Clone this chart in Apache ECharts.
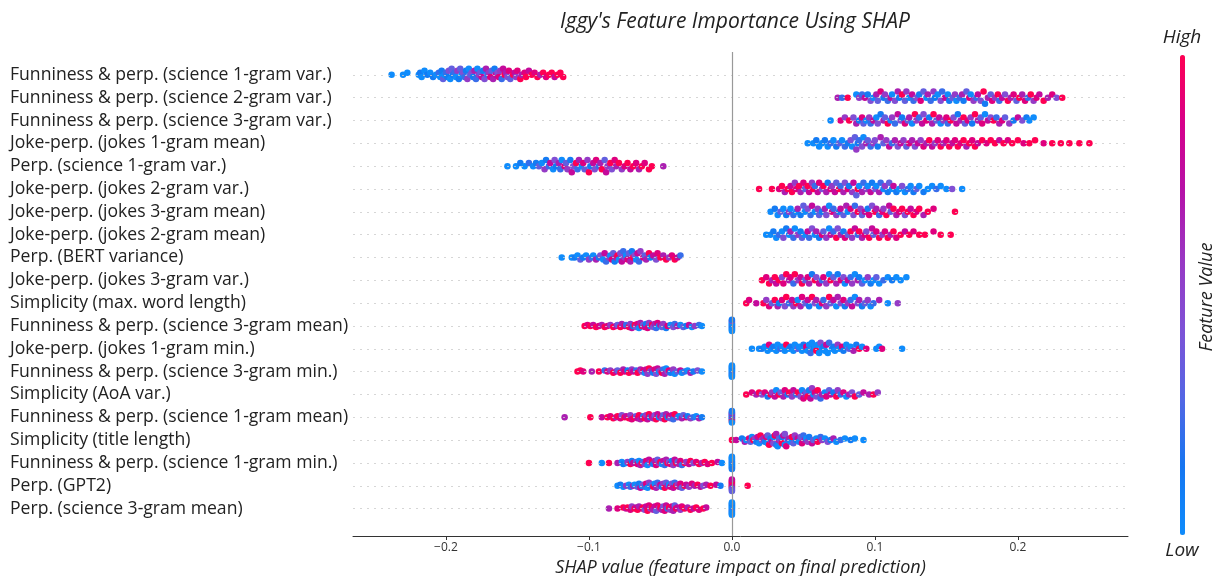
<!DOCTYPE html>
<html>
<head>
<meta charset="utf-8">
<script src="https://cdn.jsdelivr.net/npm/echarts@6/dist/echarts.min.js"></script>
<style>html,body{margin:0;padding:0;background:#fff}#c{width:1220px;height:576px}</style>
</head>
<body>
<div id="c"></div>
<script>
// ---- data ----
const features = [
 "Funniness & perp. (science 1-gram var.)",
 "Funniness & perp. (science 2-gram var.)",
 "Funniness & perp. (science 3-gram var.)",
 "Joke-perp. (jokes 1-gram mean)",
 "Perp. (science 1-gram var.)",
 "Joke-perp. (jokes 2-gram var.)",
 "Joke-perp. (jokes 3-gram mean)",
 "Joke-perp. (jokes 2-gram mean)",
 "Perp. (BERT variance)",
 "Joke-perp. (jokes 3-gram var.)",
 "Simplicity (max. word length)",
 "Funniness & perp. (science 3-gram mean)",
 "Joke-perp. (jokes 1-gram min.)",
 "Funniness & perp. (science 3-gram min.)",
 "Simplicity (AoA var.)",
 "Funniness & perp. (science 1-gram mean)",
 "Simplicity (title length)",
 "Funniness & perp. (science 1-gram min.)",
 "Perp. (GPT2)",
 "Perp. (science 3-gram mean)"
];
const xTickValues = [-0.2, -0.1, 0, 0.1, 0.2];
const xTickLabels = ["\u22120.2", "\u22120.1", "0.0", "0.1", "0.2"];
// per feature: flat pairs -> SHAP value (x1000), feature level (0 = low ... 9 = high)
const samples = [
[-238,0,-230,0,-227,0,-219,0,-218,1,-217,0,-215,0,-213,1,-211,0,-209,1,-207,0,-205,2,-204,0,-203,1,-202,3,-201,0,-200,2,-199,1,-198,4,-197,0,-196,3,-195,1,-194,2,-193,0,-192,5,-191,1,-190,3,-189,0,-188,4,-187,2,-186,1,-185,5,-184,0,-183,3,-182,4,-181,1,-180,6,-179,2,-178,0,-177,5,-176,3,-175,7,-174,1,-173,4,-172,6,-171,2,-170,5,-169,8,-168,3,-167,6,-166,1,-165,7,-164,4,-163,8,-162,5,-161,2,-160,7,-159,9,-158,6,-157,4,-156,8,-155,3,-153,9,-152,7,-151,5,-150,8,-148,9,-147,6,-145,8,-144,9,-142,7,-140,9,-138,8,-136,9,-134,6,-132,9,-130,8,-128,9,-126,9,-124,7,-122,9,-120,9,-118,9],
[74,6,77,2,81,9,87,0,89,5,91,2,93,7,95,1,97,4,99,0,101,6,102,3,104,8,106,1,107,5,109,2,111,7,112,0,114,4,116,6,117,1,119,9,121,3,122,5,124,0,126,7,127,2,129,4,131,1,132,8,134,3,136,0,137,6,139,2,141,5,142,1,144,0,146,4,147,2,149,7,151,0,152,1,154,3,156,5,157,0,159,2,161,6,162,1,164,3,166,8,167,0,169,5,171,2,172,7,174,4,176,9,177,1,179,6,181,3,182,8,184,5,186,9,187,2,189,7,191,4,193,9,195,6,197,8,199,3,201,9,203,6,205,8,207,2,209,9,211,5,213,8,215,7,218,9,221,6,224,8,227,4,231,9],
[69,0,76,8,79,5,82,9,85,4,87,6,89,1,91,8,92,3,94,0,96,5,97,2,99,7,101,0,102,4,104,1,106,6,107,3,109,9,111,0,112,5,114,2,116,7,118,4,119,1,121,8,123,3,124,6,126,0,128,9,129,5,131,2,133,7,134,4,136,8,138,1,140,6,141,9,143,3,145,7,146,0,148,5,150,8,151,2,153,9,155,4,157,7,158,1,160,6,162,9,163,3,165,8,167,5,168,1,170,9,172,6,174,3,175,8,177,0,179,7,181,4,183,9,185,2,187,6,189,8,191,3,194,5,197,1,200,7,203,4,206,1,208,0,211,0],
[53,0,57,0,59,1,61,0,63,0,65,1,67,0,69,2,71,0,73,1,75,3,77,0,79,2,81,1,83,4,84,0,86,3,87,5,88,1,89,2,91,4,92,0,94,6,95,3,97,2,99,5,100,4,102,1,104,6,106,3,108,5,110,7,112,2,114,6,116,4,118,7,120,5,122,3,124,8,126,6,128,4,130,7,132,5,134,8,136,6,138,9,140,7,142,5,144,8,146,9,148,6,150,8,152,9,154,7,156,8,158,9,160,8,162,9,164,6,166,9,168,8,170,9,172,7,175,9,178,8,181,9,184,9,187,7,190,9,193,8,196,9,200,9,204,8,208,9,212,9,218,8,224,9,230,9,236,9,243,9,250,9],
[-157,0,-151,0,-148,1,-145,0,-142,2,-139,0,-137,1,-135,3,-133,0,-131,5,-130,1,-128,2,-127,7,-125,0,-124,4,-123,1,-121,6,-120,2,-119,0,-117,8,-116,3,-115,5,-113,1,-112,7,-111,4,-109,9,-108,2,-107,6,-105,0,-104,8,-103,3,-101,5,-100,9,-99,1,-97,7,-96,4,-95,8,-93,2,-92,6,-91,9,-89,3,-88,7,-87,5,-85,9,-84,4,-82,8,-81,6,-79,9,-77,5,-75,8,-73,9,-71,7,-69,9,-67,8,-65,6,-63,9,-61,8,-58,9,-56,9,-48,6],
[19,9,28,9,33,8,35,9,37,6,39,9,41,7,42,9,44,5,45,8,47,9,48,6,50,8,51,3,53,9,54,7,56,5,57,9,58,2,60,7,61,8,63,4,64,9,66,6,67,1,69,8,70,5,72,7,73,3,75,9,76,2,78,6,79,4,81,8,82,1,84,5,85,7,87,3,88,9,89,0,91,6,92,2,94,5,95,0,97,7,98,1,100,4,101,0,103,6,104,2,106,0,107,5,109,1,110,3,112,0,113,7,115,1,117,0,119,4,121,0,123,2,125,0,127,1,129,3,131,0,134,1,137,0,140,0,143,2,146,0,150,0,154,4,161,0],
[27,0,30,1,32,0,34,3,36,0,38,1,40,5,41,0,43,2,45,0,46,6,48,1,50,3,51,0,53,4,55,2,56,7,58,0,60,5,61,3,63,1,65,6,66,4,68,0,70,8,71,2,73,5,75,1,76,7,78,3,80,6,81,0,83,8,85,4,86,2,88,9,90,5,91,3,93,7,95,1,96,8,98,4,100,9,101,6,103,2,105,8,106,5,108,9,110,7,111,3,113,9,115,6,117,8,119,9,121,4,123,9,125,7,127,9,129,8,131,9,134,6,137,9,141,8,156,9],
[24,0,27,0,29,1,31,0,33,2,35,0,36,4,38,1,40,0,41,6,43,2,44,0,46,5,48,1,49,3,51,0,53,7,54,2,56,4,58,0,59,6,61,1,63,8,64,3,66,5,68,0,69,7,71,2,73,9,74,4,76,6,78,1,79,8,81,3,83,9,84,5,86,7,88,2,89,9,91,6,93,8,94,4,96,9,98,7,99,3,101,8,103,9,105,5,107,8,109,9,111,6,113,9,115,8,118,9,121,7,124,9,127,8,131,9,135,9,141,8,146,9,153,9],
[-119,0,-112,0,-110,1,-108,0,-106,3,-104,1,-102,0,-100,5,-98,2,-97,0,-95,6,-93,1,-92,4,-90,0,-89,7,-88,2,-86,5,-85,0,-84,8,-83,3,-82,1,-81,6,-80,9,-79,0,-78,4,-77,7,-76,2,-75,5,-74,0,-73,8,-72,3,-71,6,-70,1,-69,9,-68,4,-67,0,-66,7,-65,2,-64,5,-62,8,-61,3,-60,6,-58,9,-57,1,-55,7,-53,4,-52,8,-50,9,-48,6,-46,9,-44,5,-42,8,-40,9,-38,7,-36,2],
[21,9,24,8,26,9,28,6,30,9,31,7,33,9,35,4,36,8,38,9,40,6,41,8,43,2,44,9,46,5,48,7,49,9,51,3,53,8,54,6,56,1,58,9,59,4,61,7,63,2,64,8,66,5,68,0,69,9,71,3,73,6,74,1,76,8,78,4,79,0,81,7,83,2,84,5,86,0,88,6,89,1,91,3,93,0,95,5,97,1,99,0,101,3,103,0,106,2,109,0,112,1,115,0,118,0,122,0],
[10,9,12,8,17,7,22,9,24,5,26,8,28,3,30,9,32,6,33,1,35,8,37,4,38,9,40,2,42,7,43,5,45,9,46,0,48,6,49,8,51,3,53,7,54,1,56,9,58,4,59,6,61,0,63,8,64,2,66,5,68,9,69,3,71,7,73,0,74,6,76,4,78,8,79,1,81,5,83,2,84,7,86,0,88,4,89,6,91,1,93,3,95,5,97,0,99,2,103,6,109,0,116,5],
[-103,9,-101,8,-99,9,-97,7,-95,9,-93,8,-91,6,-89,9,-87,8,-85,5,-83,9,-81,7,-80,3,-78,9,-77,6,-75,8,-74,2,-72,9,-71,5,-70,7,-69,1,-68,9,-67,4,-66,8,-65,0,-64,6,-63,9,-62,3,-61,7,-60,1,-59,8,-58,5,-57,0,-56,9,-55,4,-54,6,-53,2,-52,8,-51,0,-50,7,-49,3,-48,5,-46,1,-45,8,-43,0,-41,4,-40,2,-38,6,-36,0,-34,3,-32,1,-30,7,-28,0,-26,5,-23,2,-21,0,
 0,0,0,1,0,0,0,0,0,2,0,0,0,1,0,0,0,0,0,4,0,0,0,1],
[14,0,19,0,21,1,23,0,25,0,26,8,28,0,29,1,31,0,32,0,34,2,35,0,37,0,38,9,40,0,41,1,43,0,44,0,46,3,47,0,49,0,50,1,51,0,52,8,53,0,54,0,55,2,56,0,57,1,58,0,59,9,60,0,61,0,62,4,63,0,64,1,65,0,66,7,67,0,68,2,70,0,71,1,72,0,74,5,75,0,77,8,78,1,80,0,82,3,83,0,85,6,87,1,89,9,91,0,94,8,101,0,103,0,105,8,119,0],
[-108,9,-106,9,-104,8,-98,6,-93,9,-89,2,-87,8,-85,5,-83,9,-81,7,-80,3,-78,9,-76,6,-75,8,-73,1,-72,9,-70,5,-69,7,-67,2,-66,9,-64,6,-63,4,-62,8,-61,0,-60,7,-59,5,-58,9,-57,3,-56,6,-55,1,-54,8,-53,4,-52,7,-51,0,-50,5,-49,9,-48,2,-47,6,-46,0,-45,4,-44,8,-43,1,-41,5,-40,0,-38,3,-36,7,-35,0,-33,2,-31,0,-29,6,-27,1,-24,4,-21,0,
 0,0,0,0,0,1,0,0,0,0,0,0,0,2,0,0,0,0,0,1,0,0,0,0],
[10,9,14,8,17,6,19,9,21,4,23,8,25,1,27,9,28,5,30,7,31,0,33,9,34,3,36,6,37,8,39,1,40,9,42,5,43,7,45,2,46,9,48,4,49,0,50,8,51,6,52,3,53,9,54,1,55,7,56,5,57,0,58,8,59,4,60,9,62,2,63,6,65,0,66,8,68,3,69,7,71,1,73,9,74,5,76,2,78,8,80,0,82,6,84,4,86,9,89,3,92,7,96,6,99,9,102,5],
[-117,6,-99,9,-91,7,-87,9,-85,8,-83,9,-81,6,-80,9,-78,8,-77,4,-75,9,-74,7,-72,9,-71,5,-70,8,-68,9,-67,3,-66,7,-65,9,-64,6,-63,8,-62,2,-61,9,-60,5,-59,7,-58,9,-57,1,-56,8,-55,6,-54,4,-53,9,-52,7,-51,0,-50,8,-49,5,-48,3,-47,9,-46,6,-45,1,-44,8,-43,4,-42,7,-41,2,-40,9,-38,5,-37,0,-35,6,-34,3,-32,8,-31,1,-29,5,-27,2,-25,0,-23,6,-21,1,
 0,0,0,1,0,0,0,5,0,8,0,1,0,0,0,6,0,9,0,2,0,0,0,1],
[0,9,3,7,7,1,9,6,10,0,12,8,13,3,14,0,15,9,16,5,17,1,18,7,19,0,20,9,21,4,22,6,23,1,24,8,25,0,25,3,26,9,27,5,27,1,28,7,29,0,29,4,30,9,31,2,31,6,32,0,33,8,33,3,34,5,35,1,35,9,36,7,37,0,37,4,38,8,39,2,40,6,41,0,42,9,43,3,44,5,45,1,46,7,47,0,48,4,49,8,50,2,51,6,52,0,53,5,54,1,56,7,57,3,59,0,60,9,62,2,63,5,65,0,67,4,69,1,71,6,73,0,76,2,79,0,83,1,86,0,92,0],
[-100,9,-91,0,-86,9,-80,6,-77,0,-76,1,-74,0,-73,5,-71,9,-70,1,-69,7,-67,3,-66,8,-65,0,-64,6,-63,9,-62,2,-61,5,-60,8,-59,0,-58,7,-57,4,-56,9,-55,1,-54,6,-53,8,-52,3,-51,5,-50,9,-49,0,-48,7,-47,2,-46,6,-45,9,-44,4,-43,8,-42,1,-41,5,-40,7,-39,9,-38,3,-37,6,-36,8,-35,2,-33,9,-32,5,-30,7,-29,9,-27,4,-25,8,-23,9,-21,6,-19,9,-17,8,-14,9,-10,7,-7,0,
 0,0,0,0,0,1,0,0,0,0,0,2,0,0,0,0,0,1,0,0,0,0,0,0,0,1],
[-80,0,-78,1,-76,0,-74,5,-72,0,-71,2,-69,6,-68,0,-66,3,-65,1,-64,7,-63,0,-62,4,-61,2,-60,8,-59,0,-58,5,-57,1,-56,3,-55,9,-54,0,-53,6,-52,2,-51,4,-50,7,-49,1,-48,5,-47,9,-46,3,-45,6,-44,0,-43,8,-42,4,-41,7,-40,2,-39,9,-38,5,-37,6,-36,8,-35,3,-33,9,-32,7,-30,5,-28,8,-26,6,-24,9,-22,7,-20,4,-18,6,-15,9,-11,7,-8,1,11,9,
 0,8,0,9,0,6,0,4,0,9,0,7,0,2,0,8,0,5,0,9,0,3,0,7],
[-86,6,-80,8,-76,9,-74,7,-73,9,-71,8,-70,5,-68,9,-67,7,-66,9,-65,6,-63,8,-62,9,-61,4,-60,7,-59,9,-58,8,-57,5,-56,9,-55,6,-54,7,-53,3,-52,8,-51,5,-50,9,-49,6,-48,4,-47,8,-46,7,-45,2,-44,9,-43,5,-42,8,-41,6,-40,3,-39,9,-38,7,-36,5,-35,8,-33,9,-31,6,-29,9,-27,7,-25,9,-23,8,-20,9,-18,7,
 0,0,0,0,0,1,0,0,0,0,0,0,0,2,0,0,0,0,0,1,0,0,0,0,0,0]
];

// ---- layout (beeswarm like SHAP: bin along x, stack alternately, normalise per row) ----
const FONT = "'Open Sans', 'Noto Sans', sans-serif";
const nRows = features.length;
const binW = 0.006;
const points = [];
samples.forEach((flat, i) => {
  const pts = [];
  for (let k = 0; k + 1 < flat.length; k += 2) pts.push({x: flat[k] / 1000, c: flat[k + 1] / 9});
  const order = pts.map((p, j) => j).sort((a, b) => pts[a].x - pts[b].x);
  const cnt = {};
  const off = new Array(pts.length).fill(0);
  order.forEach(j => {
    const b = Math.round(pts[j].x / binW);
    const k = cnt[b] || 0; cnt[b] = k + 1;
    off[j] = Math.ceil(k / 2) * (k % 2 === 1 ? 1 : -1);
  });
  const m = Math.max(1, ...off.map(Math.abs));
  const s = 0.27 / m;
  const yBase = nRows - 1 - i;
  pts.forEach((p, j) => points.push([p.x, yBase + off[j] * s, p.c]));
});

const rowLines = features.map((f, i) => ({yAxis: nRows - 1 - i}));

const chart = echarts.init(document.getElementById('c'), null, {renderer: 'canvas'});
chart.setOption({
  animation: false,
  backgroundColor: '#fff',
  title: {
    text: "Iggy's Feature Importance Using SHAP",
    left: 730, top: 7, textAlign: 'center',
    textStyle: {fontFamily: FONT, fontStyle: 'italic', fontWeight: 'normal', fontSize: 21, color: '#222'}
  },
  grid: {left: 353, right: 92, top: 52, bottom: 40, containLabel: false, outerBoundsMode: 'none'},
  xAxis: {
    type: 'value', min: -0.265, max: 0.277,
    name: 'SHAP value (feature impact on final prediction)',
    nameLocation: 'middle', nameGap: 21,
    nameTextStyle: {fontFamily: FONT, fontStyle: 'italic', fontSize: 18, color: '#222'},
    axisLine: {show: true, onZero: false, lineStyle: {color: '#333', width: 1}},
    axisTick: {show: true, length: 4, customValues: xTickValues, lineStyle: {color: '#333'}},
    axisLabel: {
      customValues: xTickValues, fontFamily: FONT, fontSize: 12, color: '#333', margin: 6,
      formatter: v => { const i = xTickValues.findIndex(t => Math.abs(t - v) < 1e-9); return i >= 0 ? xTickLabels[i] : ''; }
    },
    splitLine: {show: false}
  },
  yAxis: {
    type: 'value', min: -1.2, max: 20,
    axisLine: {show: false}, axisTick: {show: false}, splitLine: {show: false},
    axisLabel: {
      customValues: features.map((f, i) => i),
      align: 'left', margin: 343, fontFamily: FONT, fontSize: 17.6, color: '#222',
      formatter: v => features[nRows - 1 - Math.round(v)] || ''
    }
  },
  visualMap: {
    type: 'continuous', min: 0, max: 1, dimension: 2, seriesIndex: 1,
    calculable: false, orient: 'vertical', left: 1180, top: 55, padding: 0,
    itemWidth: 5, itemHeight: 480, showLabel: false,
    inRange: {color: ['#0f8cfc', '#1676f1', '#5466e4', '#7e52d6', '#9838c4', '#b512a8', '#d6008a', '#ff0052']}
  },
  graphic: [
    {type: 'text', x: 1182, y: 38, style: {text: 'High', fontFamily: FONT, fontStyle: 'italic', fontSize: 19, fill: '#222', align: 'center', verticalAlign: 'middle'}},
    {type: 'text', x: 1182, y: 551, style: {text: 'Low', fontFamily: FONT, fontStyle: 'italic', fontSize: 19, fill: '#222', align: 'center', verticalAlign: 'middle'}},
    {type: 'text', x: 1207, y: 297, rotation: Math.PI / 2,
     style: {text: 'Feature Value', fontFamily: FONT, fontStyle: 'italic', fontSize: 18, fill: '#222', align: 'center', verticalAlign: 'middle'}}
  ],
  series: [
    {
      type: 'scatter', data: [], silent: true, z: 1,
      markLine: {
        silent: true, symbol: 'none', animation: false, label: {show: false},
        lineStyle: {color: '#cccccc', type: [2, 5], width: 0.8},
        data: rowLines.concat([{xAxis: 0, lineStyle: {color: '#999999', type: 'solid', width: 1.2}}])
      }
    },
    {
      type: 'scatter', data: points, symbolSize: 6.5, z: 3, silent: true,
      itemStyle: {opacity: 1}
    }
  ]
});
</script>
</body>
</html>
